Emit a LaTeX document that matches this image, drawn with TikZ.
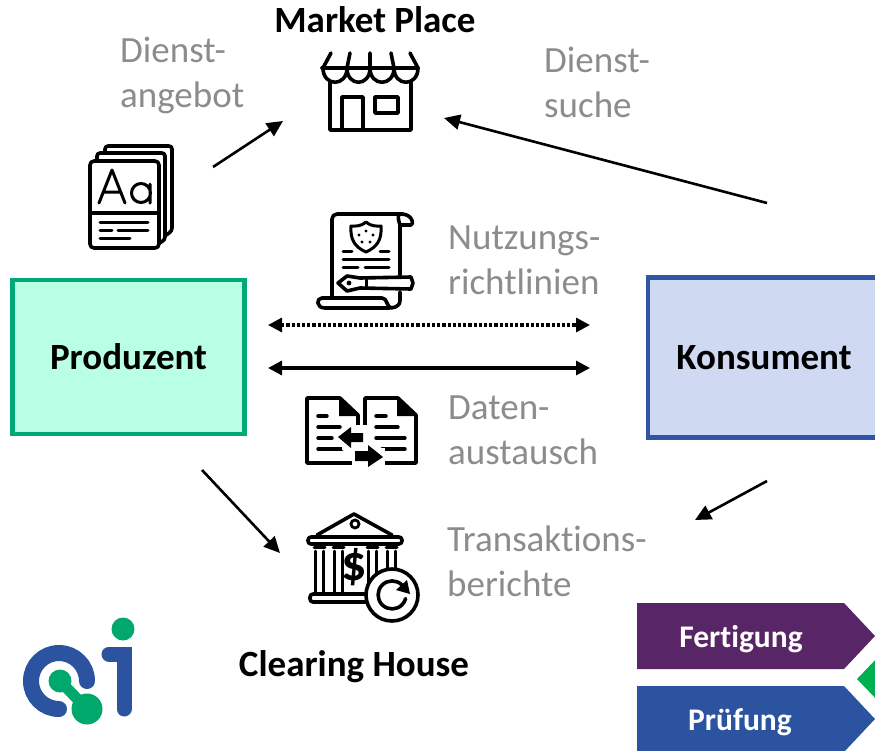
\documentclass[tikz,border=0pt]{standalone}
\usepackage{fontspec}
\setmainfont[Ligatures=NoCommon]{Carlito}
\usetikzlibrary{arrows.meta}
\definecolor{prodfill}{HTML}{B9FFE3}
\definecolor{prodline}{HTML}{00A878}
\definecolor{konsfill}{HTML}{CFD9F1}
\definecolor{konsline}{HTML}{2F55A4}
\definecolor{greytext}{HTML}{8C8C8C}
\definecolor{purplebox}{HTML}{582666}
\definecolor{bluebox}{HTML}{2B53A0}
\definecolor{greenbox}{HTML}{00B050}
\definecolor{logoblue}{HTML}{2B53A0}
\definecolor{logogreen}{HTML}{00A86B}
\tikzstyle{party} = [rectangle, draw, line width=4.5pt, font=\fontsize{37}{39}\selectfont\bfseries, text centered]
\tikzstyle{title} = [font=\fontsize{37}{39}\selectfont\bfseries, text=black]
\tikzstyle{note} = [align=left, anchor=west, inner sep=0pt, text=greytext, font=\fontsize{37}{45}\selectfont]
\tikzstyle{tag} = [font=\fontsize{31.5}{33}\selectfont\bfseries, text=white]
\tikzstyle{flow} = [line width=2.6pt, -{Triangle[length=16pt,width=15pt]}]
\tikzstyle{both} = [line width=3.2pt, {Triangle[length=14pt,width=14pt]}-{Triangle[length=14pt,width=14pt]}]
\tikzstyle{icon} = [line width=3.6pt, line join=round, line cap=round]
\tikzstyle{thin} = [line width=3pt, line cap=round]

\begin{document}
\begin{tikzpicture}[x=1pt,y=-1pt]
\useasboundingbox (0,0) rectangle (875,750);
\clip (0,0) rectangle (875,750);

\node [party, fill=prodfill, draw=prodline, minimum width=232pt, minimum height=154pt] (produzent) at (128.5,357) {Produzent};
\node [party, fill=konsfill, draw=konsline, minimum width=232pt, minimum height=160pt] (konsument) at (764,357.5) {Konsument};
\node [title] (market) at (375,20) {Market Place};
\node [title] (clearing) at (354,667) {Clearing House};

\node [note] (angebot) at (120,75.5) {Dienst-\\angebot};
\node [note] (suche) at (544,82) {Dienst-\\suche};
\node [note] (nutzung) at (448,260) {Nutzungs-\\richtlinien};
\node [note] (daten) at (448,430) {Daten-\\austausch};
\node [note] (berichte) at (447,561) {Transaktions-\\berichte};

% free ends of the arrows
\coordinate (a1) at (213,167);
\coordinate (a2) at (283,121);
\coordinate (s1) at (767,203);
\coordinate (s2) at (444,118);
\coordinate (n1) at (268,325);
\coordinate (n2) at (590,325);
\coordinate (d1) at (268,368);
\coordinate (d2) at (590,368);
\coordinate (c1) at (202,470);
\coordinate (c2) at (280,553);
\coordinate (t1) at (767,481);
\coordinate (t2) at (695,520);
\draw [flow] (a1) -- (a2);
\draw [flow] (s1) -- (s2);
\draw [both, dotted] (n1) -- (n2);
\draw [both] (d1) -- (d2);
\draw [flow] (c1) -- (c2);
\draw [flow] (t1) -- (t2);

% market place
\draw [icon] (322,68) -- (418,68);
\draw [icon] (323,68) .. controls (323,87) and (347,87) .. (347,68) .. controls (347,87) and (370,87) .. (370,68) .. controls (370,87) and (394,87) .. (394,68) .. controls (394,87) and (418,87) .. (418,68);
\draw [icon] (323,68) -- (331,53) (347,68) -- (350,53) (370,68) -- (370,53) (394,68) -- (391,53) (418,68) -- (410,53);
\draw [icon] (330,83) -- (330,130) -- (411,130) -- (411,83);
\draw [icon] (342,130) -- (342,97) -- (363,97) -- (363,130);
\draw [icon] (375,97) rectangle (398,113);

% book
\draw [icon, rounded corners=3pt] (105,152) -- (105,146) -- (172,146) -- (172,231) -- (166,235);
\draw [icon, rounded corners=3pt] (97,160) -- (97,153) -- (165,153) -- (165,240) -- (159,243);
\draw [icon, fill=white, rounded corners=4pt] (90,161) rectangle (159,248);
\draw [icon] (90,213) -- (159,213);
\draw [icon, line width=3pt] (99,203) -- (112,170) -- (125,203) (103,192) -- (121,192);
\draw [icon, line width=3pt] (141,193) circle (9.5pt) (150,184) -- (150,203);
\draw [thin] (100,222) -- (148,222) (100,230) -- (112,230) (118,230) -- (148,230) (100,238) -- (130,238);

% scroll
\draw [icon, rounded corners=5pt] (332,298) -- (332,214) -- (403,214);
\draw [icon] (401,214) .. controls (413,214) and (414,225) .. (411,225) -- (400,225) -- (400,275);
\draw [icon] (400,214) .. controls (396,214) and (400,225) .. (400,225);
\draw [icon] (400,292) -- (400,300) .. controls (400,308) and (392,308) .. (388,308) -- (325,308) .. controls (316,308) and (316,298) .. (322,298) -- (382,298) .. controls (388,298) and (386,308) .. (392,308);
\draw [line width=3pt, line join=round] (366,222) .. controls (360,227) and (355,226) .. (351,226) .. controls (350,240) and (355,247) .. (366,252) .. controls (377,247) and (382,240) .. (381,226) .. controls (377,226) and (372,227) .. (366,222) -- cycle;
\fill (366,231) circle (1.6pt) (359,235) circle (1.6pt) (373,235) circle (1.6pt) (362,242) circle (1.6pt) (370,242) circle (1.6pt);
\draw [thin] (343,251) -- (352,251) (380,251) -- (389,251) (343,259) -- (389,259) (343,267) -- (358,267) (365,267) -- (389,267);
\draw [icon, fill=white] (338,283) -- (347,276) -- (360,278) -- (411,277) -- (413,283) -- (411,289) -- (360,288) -- (347,291) -- cycle;
\draw [thin] (366,278) -- (366,288);
\fill (349,283) circle (2.4pt);

% data exchange
\draw [icon, fill=white] (307,398) -- (340,398) -- (358,415) -- (358,463) -- (307,463) -- cycle;
\fill (339,397) -- (359,416) -- (339,416) -- cycle;
\draw [icon, fill=white] (365,398) -- (398,398) -- (416,415) -- (416,463) -- (365,463) -- cycle;
\fill (397,397) -- (417,416) -- (397,416) -- cycle;
\draw [thin, line width=3.4pt] (318,416) -- (327,416) (318,427) -- (340,427) (318,438) -- (332,438) (318,449) -- (342,449);
\draw [thin, line width=3.4pt] (376,416) -- (386,416) (376,427) -- (398,427) (376,438) -- (405,438) (382,449) -- (405,449);
\fill [white] (342,425) rectangle (370,450);
\fill [white] (352,448) rectangle (385,467);
\fill (338,437) -- (351,427) -- (351,433) -- (363,433) -- (363,442) -- (351,442) -- (351,448) -- cycle;
\fill (383,457) -- (368,445) -- (368,451) -- (355,451) -- (355,461) -- (368,461) -- (368,467) -- cycle;

% clearing house
\draw [icon] (317,535) -- (354,514) -- (392,535);
\draw [line width=2.8pt] (355,524) circle (4pt);
\draw [icon, rounded corners=3pt] (308,537) rectangle (402,544);
\foreach \px in {314,333,367,386} {
  \draw [thin] (\px,547) -- (\px+11,547) (\px+1.5,551) -- (\px+1.5,593) (\px+9.5,551) -- (\px+9.5,593);
}
\draw [icon, rounded corners=3pt] (310,594) rectangle (372,602);
\node [inner sep=0pt, font=\fontsize{50}{50}\selectfont\bfseries] (dollar) at (354,567) {\$};
\draw [icon, fill=white] (392,595) circle (26pt);
\draw [icon] (402,585) arc [start angle=45, end angle=345, radius=14pt];
\fill (407,580) -- (410,594) -- (396,590) -- cycle;

% logo
\draw [line width=16pt, line cap=round, draw=logoblue] (87,681) arc [start angle=0, end angle=270, radius=28pt];
\draw [line width=15pt, line cap=round, draw=logoblue] (109,654) -- (124,654) -- (124,709);
\fill [logogreen] (123,629) circle (11.5pt);
\fill [logogreen] (60,681) circle (11.5pt);
\fill [logogreen] (87,709) circle (15.5pt);
\draw [line width=11pt, draw=logogreen] (60,681) -- (87,709);

% process tags
\fill [purplebox] (637,603) -- (844,603) -- (875,636) -- (844,669) -- (637,669) -- cycle;
\fill [bluebox] (637,686) -- (844,686) -- (875,719) -- (844,752) -- (637,752) -- cycle;
\fill [greenbox] (857,679) -- (880,655) -- (880,703) -- cycle;
\node [tag] (fertigung) at (741,639) {Fertigung};
\node [tag] (pruefung) at (740,722) {Prüfung};
\end{tikzpicture}
\end{document}
